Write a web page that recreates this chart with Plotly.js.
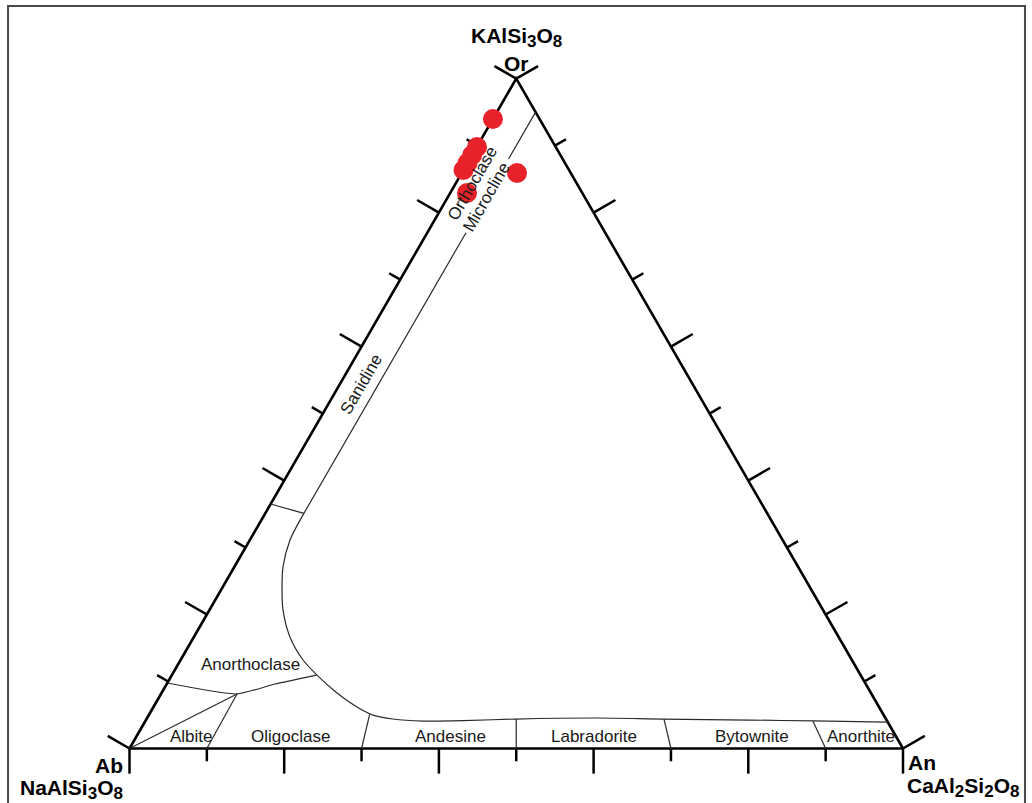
<!DOCTYPE html>
<html>
<head>
<meta charset="utf-8">
<script src="https://cdn.plot.ly/plotly-3.0.1.min.js"></script>
<style>html,body{margin:0;padding:0;background:#fff;}#plot{width:1032px;height:803px;}</style>
</head>
<body>
<div id="plot"></div>
<script>
// ---------- data (ternary compositions, mol %: An = anorthite, Or = orthoclase) ----------
const vertexAn = [0, 100, 0, 0];
const vertexOr = [0, 0, 100, 0];

const tickValues = [0, 10, 20, 30, 40, 50, 60, 70, 80, 90, 100];

// alkali-feldspar strip line (An = 5), interrupted by the "Microcline" label
const stripTopAn = [5, 5];
const stripTopOr = [95, 88];
const stripMidAn = [5, 5];
const stripMidOr = [77, 35.1];

// solvus curve separating the alkali feldspars from the plagioclases
const solvusAn = [5, 5.19, 6.3, 7.67, 9.5, 12.42, 15.83, 18.76, 22.69, 26.31, 28.98, 31.87, 35.96, 41.05, 47.75, 58.16, 66.77, 78.1, 86.31, 96.05];
const solvusOr = [35.1, 31.12, 27.09, 24.1, 20.69, 16.65, 13.21, 10.96, 8.28, 6.19, 4.99, 4.4, 4.1, 4.15, 4.4, 4.55, 4.4, 4.25, 4.11, 3.95];

// Sanidine / Anorthoclase divider
const sanDivAn = [0, 5];
const sanDivOr = [36.5, 35.1];

// Anorthoclase lower boundary (left edge -> junction -> solvus)
const anorthAn = [0, 9.83, 14.0, 18.7];
const anorthOr = [9.78, 8.14, 9.63, 10.96];

// Albite boundary from the Ab corner to the junction
const albiteAn = [0, 9.83];
const albiteOr = [0, 8.14];

// plagioclase dividers (base on Ab-An join, top on the solvus)
const divBaseAn = [10, 30, 50, 70, 90];
const divTopAn = [9.83, 28.5, 47.8, 66.9, 86.3];
const divTopOr = [8.14, 5.1, 4.4, 4.4, 4.1];

// analysed feldspars
const sampleAn = [0, 0.03, 0, 0, 0, 2.17, 7.14];
const sampleOr = [93.97, 89.79, 88.6, 87.4, 86.36, 82.93, 85.92];

// field labels
const fieldNames = ['Anorthoclase', 'Albite', 'Oligoclase', 'Andesine', 'Labradorite', 'Bytownite', 'Anorthite'];
const fieldAn = [9.4, 7.2, 20.0, 40.7, 59.25, 79.6, 93.7];
const fieldOr = [12.47, 1.72, 1.72, 1.72, 1.72, 1.72, 1.72];
const alkaliNames = ['Sanidine', 'Orthoclase', 'Microcline'];
const alkaliAn = [2.73, 2.1, 5.0];
const alkaliOr = [54.4, 84.4, 82.4];

// ---------- helpers ----------
const SQ = Math.sqrt(3) / 2;
const tx = (an, or) => an + or / 2;
const ty = (or) => or * SQ;
const toX = (an, or) => an.map((a, i) => tx(a, or[i]));
const toY = (or) => or.map(ty);

const LONG = 3.25, SHORT = 1.65;
function tickTrace(edge) {
  const xs = [], ys = [];
  tickValues.forEach((v, k) => {
    const len = (k % 2 === 0) ? LONG : SHORT;
    let an, or, dx, dy;
    if (edge === 'bottom') { an = v; or = 0; dx = 0; dy = -1; }
    else if (edge === 'left') { an = 0; or = 100 - v; dx = -SQ; dy = 0.5; }
    else { an = v; or = 100 - v; dx = SQ; dy = 0.5; }
    const x0 = tx(an, or), y0 = ty(or);
    xs.push(x0, x0 + dx * len, null);
    ys.push(y0, y0 + dy * len, null);
  });
  return { type: 'scatter', mode: 'lines', x: xs, y: ys, hoverinfo: 'skip',
           line: { color: '#000', width: 2.5 } };
}

const thin = { color: '#2a2a2a', width: 1.2 };
const traces = [];
traces.push({ type: 'scatter', mode: 'lines', x: toX(vertexAn, vertexOr), y: toY(vertexOr),
              line: { color: '#000', width: 2.6 }, hoverinfo: 'skip' });
traces.push(tickTrace('bottom'), tickTrace('left'), tickTrace('right'));
traces.push({ type: 'scatter', mode: 'lines', x: toX(stripTopAn, stripTopOr), y: toY(stripTopOr), line: thin });
traces.push({ type: 'scatter', mode: 'lines', x: toX(stripMidAn, stripMidOr), y: toY(stripMidOr), line: thin });
traces.push({ type: 'scatter', mode: 'lines', x: toX(solvusAn, solvusOr), y: toY(solvusOr),
              line: Object.assign({ shape: 'spline', smoothing: 0.8 }, thin) });
traces.push({ type: 'scatter', mode: 'lines', x: toX(sanDivAn, sanDivOr), y: toY(sanDivOr), line: thin });
traces.push({ type: 'scatter', mode: 'lines', x: toX(anorthAn, anorthOr), y: toY(anorthOr),
              line: Object.assign({ shape: 'spline', smoothing: 0.5 }, thin) });
traces.push({ type: 'scatter', mode: 'lines', x: toX(albiteAn, albiteOr), y: toY(albiteOr), line: thin });
{
  const xs = [], ys = [];
  divBaseAn.forEach((b, i) => {
    xs.push(tx(b, 0), tx(divTopAn[i], divTopOr[i]), null);
    ys.push(ty(0), ty(divTopOr[i]), null);
  });
  traces.push({ type: 'scatter', mode: 'lines', x: xs, y: ys, line: thin });
}
traces.push({ type: 'scatter', mode: 'markers', x: toX(sampleAn, sampleOr), y: toY(sampleOr),
              marker: { color: '#e8222a', size: 20, line: { width: 0 } } });

const FONT = 'Liberation Sans, Arial, Helvetica, sans-serif';
const labelFont = { family: FONT, size: 17, color: '#1a1a1a' };
const titleFont = { family: FONT, size: 21, color: '#000' };
const annotations = [];
fieldNames.forEach((n, i) => annotations.push({
  text: n, x: tx(fieldAn[i], fieldOr[i]), y: ty(fieldOr[i]), xref: 'x', yref: 'y',
  showarrow: false, font: labelFont, xanchor: 'center', yanchor: 'middle' }));
alkaliNames.forEach((n, i) => annotations.push({
  text: n, x: tx(alkaliAn[i], alkaliOr[i]), y: ty(alkaliOr[i]), xref: 'x', yref: 'y',
  showarrow: false, font: labelFont, textangle: -60, xanchor: 'center', yanchor: 'middle' }));

const sub = (d) => '<sub><span style="font-size:17px">' + d + '</span></sub>';
const S = 7.735;
annotations.push(
  { text: '<b>KAlSi' + sub(3) + 'O' + sub(8) + '</b>', x: 50, y: (748.5 - 37) / S, xref: 'x', yref: 'y',
    showarrow: false, font: titleFont, xanchor: 'center', yanchor: 'middle' },
  { text: '<b>Or</b>', x: 50, y: (748.5 - 63) / S, xref: 'x', yref: 'y',
    showarrow: false, font: titleFont, xanchor: 'center', yanchor: 'middle' },
  { text: '<b>Ab</b>', x: (125 - 129.5) / S, y: (748.5 - 765) / S, xref: 'x', yref: 'y',
    showarrow: false, font: titleFont, xanchor: 'right', yanchor: 'middle' },
  { text: '<b>NaAlSi' + sub(3) + 'O' + sub(8) + '</b>', x: (125 - 129.5) / S, y: (748.5 - 789) / S, xref: 'x', yref: 'y',
    showarrow: false, font: titleFont, xanchor: 'right', yanchor: 'middle' },
  { text: '<b>An</b>', x: (906 - 129.5) / S, y: (748.5 - 762) / S, xref: 'x', yref: 'y',
    showarrow: false, font: titleFont, xanchor: 'left', yanchor: 'middle' },
  { text: '<b>CaAl' + sub(2) + 'Si' + sub(2) + 'O' + sub(8) + '</b>', x: (905 - 129.5) / S, y: (748.5 - 787) / S, xref: 'x', yref: 'y',
    showarrow: false, font: titleFont, xanchor: 'left', yanchor: 'middle' }
);

const layout = {
  width: 1032, height: 803,
  font: { family: FONT, size: 17, color: '#1a1a1a' },
  margin: { l: 0, r: 0, t: 0, b: 0, pad: 0 },
  paper_bgcolor: '#fff', plot_bgcolor: '#fff',
  showlegend: false,
  hovermode: false,
  xaxis: { range: [-129.5 / S, (1032 - 129.5) / S], visible: false, fixedrange: true },
  yaxis: { range: [(748.5 - 803) / S, 748.5 / S], visible: false, fixedrange: true },
  annotations: annotations,
  shapes: [{ type: 'path', xref: 'paper', yref: 'paper',
             path: 'M 0.0078,-0.05 L 0.0078,0.9925 L 0.9932,0.9925 L 0.9932,-0.05',
             line: { color: '#4a4a4a', width: 2 } }]
};

Plotly.newPlot('plot', traces, layout, { displayModeBar: false });
</script>
</body>
</html>
